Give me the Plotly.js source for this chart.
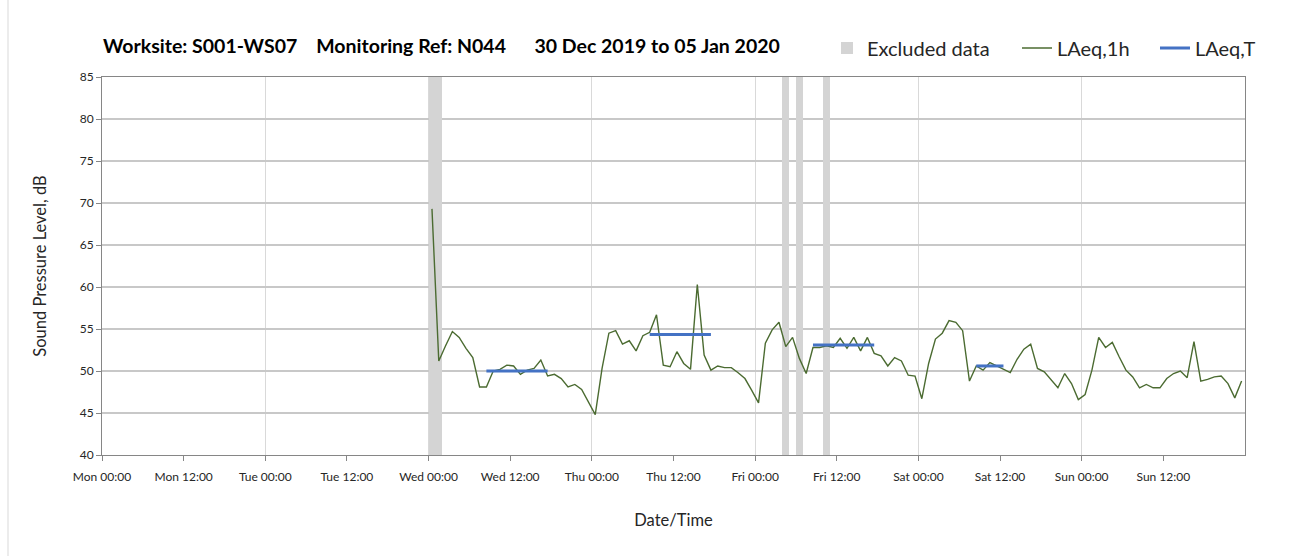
<!DOCTYPE html>
<html><head><meta charset="utf-8">
<script src="https://cdn.plot.ly/plotly-3.0.1.min.js"></script>
<style>html,body{margin:0;padding:0;background:#fff}</style>
</head><body><div id="chart" style="width:1307px;height:556px"></div>
<script>
// ---- data ----
const xRangeStart = '2019-12-30 00:00';
const xRangeEnd = '2020-01-06 00:00';
const firstReading = '2020-01-01 00:30';   // hourly LAeq,1h readings (mid-hour)
const wedLevels = [69.3, 51.2, 53.0, 54.7, 54.0, 52.7, 51.6, 48.1, 48.1, 50.0, 50.2, 50.7, 50.6, 49.6, 50.1, 50.3, 51.3, 49.4, 49.6, 49.1, 48.1, 48.4, 47.8, 46.3];
const thuLevels = [44.8, 50.3, 54.5, 54.8, 53.2, 53.6, 52.4, 54.2, 54.6, 56.7, 50.7, 50.5, 52.3, 50.9, 50.2, 60.3, 51.9, 50.1, 50.6, 50.4, 50.4, 49.8, 49.1, 47.7];
const friLevels = [46.2, 53.3, 54.9, 55.8, 52.9, 54.0, 51.5, 49.7, 52.8, 52.8, 53.0, 52.8, 53.9, 52.7, 54.0, 52.4, 54.0, 52.1, 51.8, 50.6, 51.6, 51.2, 49.5, 49.4];
const satLevels = [46.7, 50.9, 53.8, 54.5, 56.0, 55.8, 54.8, 48.8, 50.6, 50.1, 51.0, 50.6, 50.2, 49.8, 51.4, 52.6, 53.2, 50.3, 49.9, 49.0, 48.0, 49.7, 48.5, 46.6];
const sunLevels = [47.2, 50.1, 54.0, 52.8, 53.4, 51.7, 50.1, 49.3, 48.0, 48.4, 48.0, 48.0, 49.1, 49.7, 50.0, 49.2, 53.5, 48.8, 49.0, 49.3, 49.4, 48.5, 46.8, 48.8];

const periodStart = ['2020-01-01 08:30', '2020-01-02 08:30', '2020-01-03 08:30', '2020-01-04 08:30'];
const periodEnd   = ['2020-01-01 17:30', '2020-01-02 17:30', '2020-01-03 17:30', '2020-01-04 12:30'];
const periodLevel = [50.0, 54.35, 53.1, 50.6];

const excludedHours = ['2020-01-01 00:30', '2020-01-01 01:30', '2020-01-03 04:30', '2020-01-03 06:30', '2020-01-03 10:30'];

const tickLabels = ['Mon 00:00', 'Mon 12:00', 'Tue 00:00', 'Tue 12:00', 'Wed 00:00', 'Wed 12:00', 'Thu 00:00', 'Thu 12:00', 'Fri 00:00', 'Fri 12:00', 'Sat 00:00', 'Sat 12:00', 'Sun 00:00', 'Sun 12:00'];
const yMin = 40, yMax = 85, yStep = 5;

const NB = '\u00a0';
const titleText = 'Worksite: S001-WS07' + NB.repeat(4) + 'Monitoring Ref: N044' + NB.repeat(6) + '30 Dec 2019 to 05 Jan 2020';

// ---- helpers ----
const HOUR = 3600000;
function toMs(s) { return Date.parse(s.replace(' ', 'T') + ':00Z'); }
function fmt(ms) {
  const d = new Date(ms);
  const p = n => String(n).padStart(2, '0');
  return d.getUTCFullYear() + '-' + p(d.getUTCMonth() + 1) + '-' + p(d.getUTCDate()) + ' ' + p(d.getUTCHours()) + ':' + p(d.getUTCMinutes());
}

const levels = [].concat(wedLevels, thuLevels, friLevels, satLevels, sunLevels);
const t0 = toMs(firstReading);
const times = levels.map((v, i) => fmt(t0 + i * HOUR));

const tX = [], tY = [];
periodStart.forEach((s, i) => { tX.push(s, periodEnd[i], null); tY.push(periodLevel[i], periodLevel[i], null); });

const tickVals = tickLabels.map((_, i) => fmt(toMs(xRangeStart) + i * 12 * HOUR));

const FONT = 'Lato, "Open Sans", sans-serif';

const traces = [
  {
    type: 'bar', name: 'Excluded data', x: excludedHours,
    y: excludedHours.map(() => yMax - yMin), base: yMin, width: HOUR,
    marker: { color: '#d4d4d4', line: { width: 0 } },
    xaxis: 'x', yaxis: 'y', hoverinfo: 'skip', legend: 'legend'
  },
  {
    type: 'scatter', mode: 'lines', name: 'LAeq,1h', x: times, y: levels,
    line: { color: '#4b6b31', width: 1.4 }, xaxis: 'x2', yaxis: 'y', legend: 'legend2'
  },
  {
    type: 'scatter', mode: 'lines', name: 'LAeq,T', x: tX, y: tY,
    line: { color: '#4472c4', width: 3 }, xaxis: 'x2', yaxis: 'y', connectgaps: false, legend: 'legend3'
  }
];

function legendAt(px) {
  return {
    orientation: 'h', xref: 'container', yref: 'container', x: px / 1307, xanchor: 'left',
    y: 1 - 48 / 556, yanchor: 'middle', font: { family: FONT, size: 20, color: '#262626' },
    bgcolor: 'rgba(0,0,0,0)', borderwidth: 0
  };
}

const layout = {
  width: 1307, height: 556,
  margin: { l: 102, r: 62, t: 77, b: 101, pad: 0 },
  paper_bgcolor: '#ffffff', plot_bgcolor: '#ffffff',
  font: { family: FONT, color: '#262626' },
  bargap: 0,
  title: {
    text: '<b>' + titleText + '</b>', font: { family: FONT, size: 19.5, color: '#000000' },
    xref: 'container', yref: 'container', x: 103 / 1307, xanchor: 'left', y: 1 - 46 / 556, yanchor: 'middle'
  },
  showlegend: true,
  legend: legendAt(827),
  legend2: legendAt(1017),
  legend3: legendAt(1155),
  xaxis: {
    type: 'date', range: [xRangeStart, xRangeEnd], tick0: xRangeStart, dtick: 24 * HOUR,
    showgrid: true, gridcolor: '#d9d9d9', gridwidth: 1, showticklabels: false, ticks: '',
    zeroline: false, showline: false, fixedrange: true
  },
  xaxis2: {
    type: 'date', overlaying: 'x', anchor: 'y', side: 'bottom', range: [xRangeStart, xRangeEnd],
    tickmode: 'array', tickvals: tickVals, ticktext: tickLabels,
    showgrid: false, ticks: 'outside', ticklen: 5, tickcolor: '#868686', ticklabelstandoff: 6,
    tickfont: { family: FONT, size: 12, color: '#262626' },
    showline: true, linecolor: '#868686', linewidth: 1, mirror: true, zeroline: false,
    title: { text: 'Date/Time', font: { family: FONT, size: 16.5, color: '#262626' }, standoff: 31 }
  },
  yaxis: {
    range: [yMin, yMax], tick0: yMin, dtick: yStep,
    showgrid: true, gridcolor: '#c8c8c8', gridwidth: 1.3, zeroline: false,
    ticks: 'outside', ticklen: 5, tickcolor: '#868686',
    tickfont: { family: FONT, size: 12, color: '#262626' },
    showline: true, linecolor: '#868686', linewidth: 1, mirror: true,
    title: { text: 'Sound Pressure Level, dB', font: { family: FONT, size: 16.5, color: '#262626' }, standoff: 28 }
  },
  shapes: [
    { type: 'line', xref: 'paper', yref: 'paper', x0: (8 - 102) / 1143, x1: (8 - 102) / 1143,
      y0: (455 - 556) / 378, y1: (455 - 0) / 378, line: { color: '#d9d9d9', width: 1 }, layer: 'below' }
  ]
};

Plotly.newPlot('chart', traces, layout, { displayModeBar: false, staticPlot: true });
</script>
</body></html>
